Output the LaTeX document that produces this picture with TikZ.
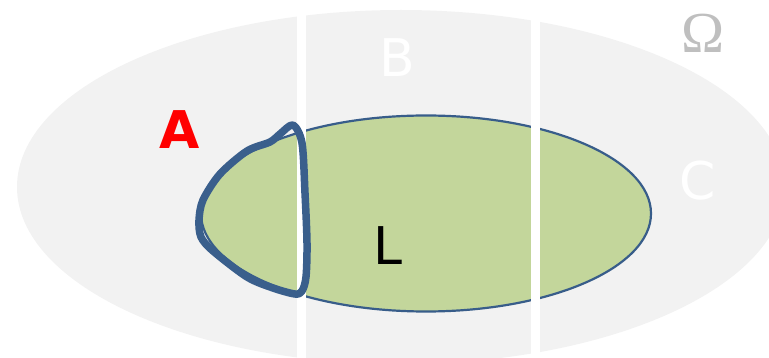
\documentclass[tikz,border=0pt]{standalone}
\usepackage{fontspec}
\setsansfont{DejaVu Sans}
\newfontfamily\omegafont{Liberation Serif}
\definecolor{omegabg}{HTML}{F2F2F2}
\definecolor{lgreen}{HTML}{C3D69B}
\definecolor{lblue}{HTML}{385D8A}
\definecolor{ablue}{HTML}{3A5F8C}
\definecolor{omegatxt}{HTML}{BFBFBF}
\begin{document}
\begin{tikzpicture}[x=1pt,y=-1pt,
  lbl/.style={font=\sffamily\fontsize{52}{52}\selectfont, inner sep=0pt},
  divider/.style={fill=white}]
\useasboundingbox (0,0) rectangle (769,358);
\clip (0,0) rectangle (769,358);
% Omega
\fill[omegabg] (401,187) ellipse [x radius=384, y radius=177];
% L
\filldraw[fill=lgreen, draw=lblue, line width=2.2] (426,213.5) ellipse [x radius=225, y radius=98];
% dividers
\fill[divider] (297,15) rectangle (306,358);
\fill[divider] (531,15) rectangle (540,358);
% A intersect L outline
\draw[ablue, line width=7.5, line join=round]
  plot[smooth cycle, tension=0.5] coordinates {
  (293,125) (302,143) (305,193) (307,243) (306,277) (302,291) (295,294)
  (273,288) (247,277) (213,251) (201,237) (199,220) (203,200) (220,174)
  (247,151) (270,142) (280,134)};
% labels
\node[lbl, text=red, font=\sffamily\bfseries\fontsize{52}{52}\selectfont] (A) at (180,130) {A};
\node[lbl, text=white] (B) at (397,58) {B};
\node[lbl, text=white] (C) at (698,181) {C};
\node[lbl, text=black] (L) at (388,246) {L};
\node[inner sep=0pt, text=omegatxt, font=\omegafont\fontsize{58}{58}\selectfont] (O) at (703,33) {Ω};
\end{tikzpicture}
\end{document}
